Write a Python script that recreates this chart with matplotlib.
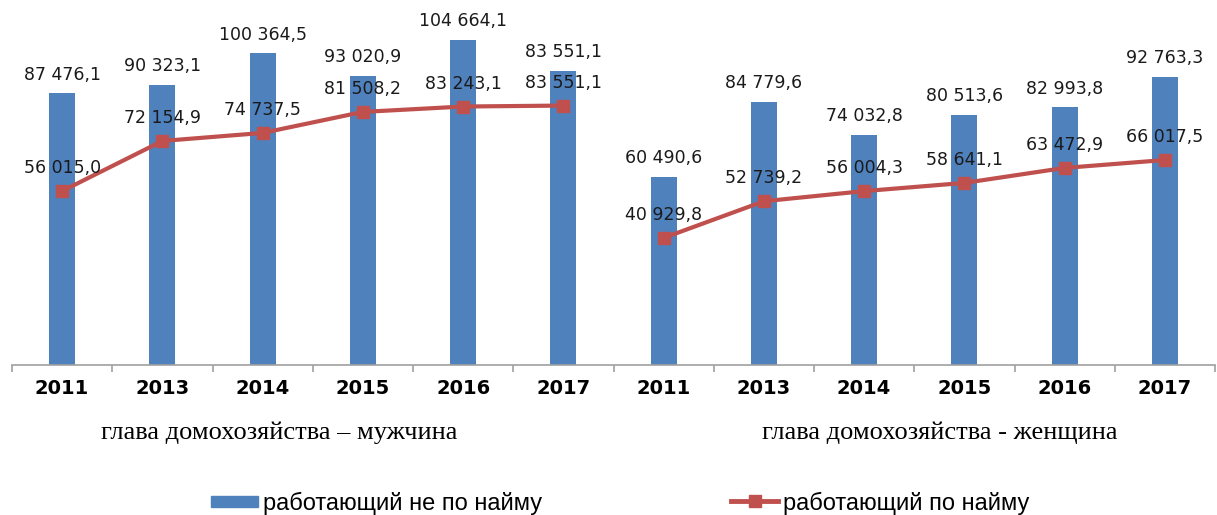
import matplotlib
matplotlib.use("Agg")
import matplotlib.pyplot as plt
from matplotlib.patches import Patch
from matplotlib.lines import Line2D

years = ["2011", "2013", "2014", "2015", "2016", "2017"]
groups = ["глава домохозяйства – мужчина", "глава домохозяйства - женщина"]

# self-employed (bars); the 2017 male bar is drawn taller than its label in the source
self_emp_m = [87476.1, 90323.1, 100364.5, 93020.9, 104664.1, 94700.0]
self_emp_f = [60490.6, 84779.6, 74032.8, 80513.6, 82993.8, 92763.3]
self_emp_m_lbl = ["87 476,1", "90 323,1", "100 364,5", "93 020,9", "104 664,1", "83 551,1"]
self_emp_f_lbl = ["60 490,6", "84 779,6", "74 032,8", "80 513,6", "82 993,8", "92 763,3"]

# employed (line)
emp_m = [56015.0, 72154.9, 74737.5, 81508.2, 83243.1, 83551.1]
emp_f = [40929.8, 52739.2, 56004.3, 58641.1, 63472.9, 66017.5]


def fmt(v):
    s = f"{v:,.1f}".replace(",", " ").replace(".", ",")
    return s


bar_color = "#4F81BD"
line_color = "#C0504D"

fig = plt.figure(figsize=(12.17, 5.15), dpi=100)
ax = fig.add_axes([12 / 1217, 150 / 515, 1203 / 1217, 365 / 515])

n = len(years)
xm = list(range(n))
xf = list(range(n, 2 * n))

bars = list(self_emp_m) + list(self_emp_f)
bar_lbls = self_emp_m_lbl + self_emp_f_lbl
ax.bar(xm + xf, bars, width=0.26, color=bar_color, zorder=2)

ax.plot(xm, emp_m, color=line_color, lw=3, marker="s", ms=8.5, zorder=3)
ax.plot(xf, emp_f, color=line_color, lw=3, marker="s", ms=8.5, zorder=3)

for x, v, t in zip(xm + xf, bars, bar_lbls):
    ax.annotate(t, (x, v), xytext=(0, 13.5), textcoords="offset points",
                ha="center", va="center", fontsize=12.5, color="#1a1a1a")
for x, v in zip(xm + xf, emp_m + emp_f):
    ax.annotate(fmt(v), (x, v), xytext=(0, 16.5), textcoords="offset points",
                ha="center", va="center", fontsize=12.5, color="#1a1a1a")

ax.set_xlim(-0.5, 2 * n - 0.5)
ax.set_ylim(0, 117550)
for s in ["top", "right", "left"]:
    ax.spines[s].set_visible(False)
ax.spines["bottom"].set_color("#a0a0a0")
ax.spines["bottom"].set_linewidth(1.2)
ax.set_yticks([])
ax.set_xticks(xm + xf)
ax.set_xticklabels(years + years, fontsize=14, fontweight="bold")
ax.tick_params(axis="x", which="major", length=0, pad=10)
ax.set_xticks([i - 0.5 for i in range(2 * n + 1)], minor=True)
ax.tick_params(axis="x", which="minor", length=5, color="#a0a0a0", width=1.2)

fig.text(279 / 1217, 1 - 433 / 515, groups[0], ha="center", va="center",
         fontsize=19, family="Liberation Serif")
fig.text(940 / 1217, 1 - 433 / 515, groups[1], ha="center", va="center",
         fontsize=19, family="Liberation Serif")

h1 = Patch(color=bar_color)
h2 = Line2D([], [], color=line_color, lw=3.5, marker="s", ms=8)
leg_font = {"family": "Liberation Sans", "size": 17}
fig.legend([h1], ["работающий не по найму"], loc="center left",
           bbox_to_anchor=(190 / 1217, 1 - 503 / 515), frameon=False,
           prop=leg_font, handlelength=2.0, handleheight=0.35, handletextpad=0.2)
fig.legend([h2], ["работающий по найму"], loc="center left",
           bbox_to_anchor=(710 / 1217, 1 - 503 / 515), frameon=False,
           prop=leg_font, handlelength=2.0, handletextpad=0.2)

fig.savefig("out.png", dpi=100)
